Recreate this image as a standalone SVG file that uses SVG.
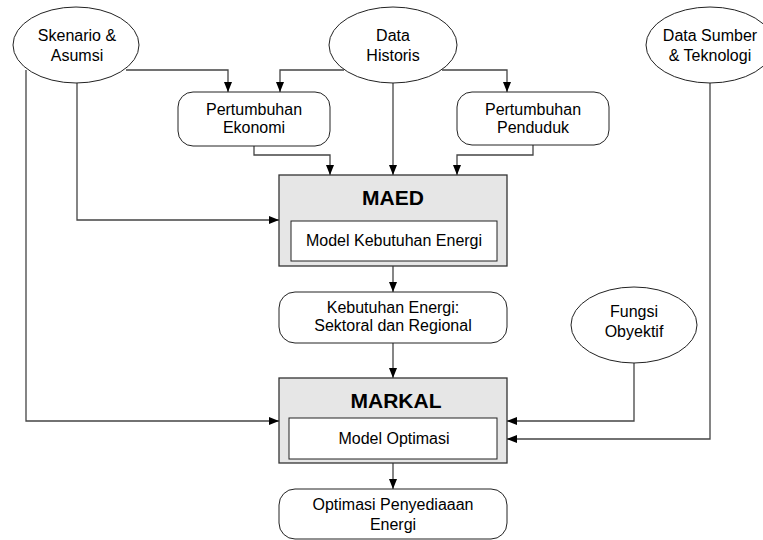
<svg xmlns="http://www.w3.org/2000/svg" width="763" height="540" viewBox="0 0 763 540">
<style>
text{font-family:"Liberation Sans",Arial,sans-serif;font-size:16px;fill:#000;text-anchor:middle}
.t{font-weight:bold;font-size:21px}
.el{fill:#fff;stroke:#222;stroke-width:1}
.rb{fill:#fff;stroke:#222;stroke-width:1}
.gb{fill:#e6e6e6;stroke:#333;stroke-width:1.3}
.ib{fill:#fff;stroke:#222;stroke-width:1}
.c{fill:none;stroke:#444;stroke-width:1.3;marker-end:url(#a)}
</style>
<defs>
<marker id="a" viewBox="0 0 10 10" refX="10" refY="5" markerWidth="10" markerHeight="10" markerUnits="userSpaceOnUse" orient="auto">
<path d="M0,1 L10,5 L0,9 Z" fill="#000"/>
</marker>
</defs>
<g id="connectors">
<path class="c" d="M126,70 H228 V92"/>
<path class="c" d="M344,70 H280 V92"/>
<path class="c" d="M442,70 H507 V92"/>
<path class="c" d="M393,83 V175"/>
<path class="c" d="M254,146 V155 H330 V175"/>
<path class="c" d="M533,145 V155 H457 V175"/>
<path class="c" d="M77,83 V220 H279"/>
<path class="c" d="M26,70 V421 H279"/>
<path class="c" d="M393,266 V292"/>
<path class="c" d="M393,343 V378"/>
<path class="c" d="M393,463 V489"/>
<path class="c" d="M634,363 V421 H507"/>
<path class="c" d="M710,83 V439 H507"/>
</g>
<g id="skenario">
<ellipse class="el" cx="76" cy="45" rx="63" ry="38"/>
<text x="77" y="41">Skenario &amp;</text>
<text x="77" y="61">Asumsi</text>
</g>
<g id="historis">
<ellipse class="el" cx="393" cy="45" rx="64" ry="38"/>
<text x="393" y="41">Data</text>
<text x="393" y="61">Historis</text>
</g>
<g id="sumber">
<ellipse class="el" cx="710" cy="45" rx="64" ry="38"/>
<text x="710" y="41">Data Sumber</text>
<text x="710" y="61">&amp; Teknologi</text>
</g>
<g id="ekonomi">
<rect class="rb" x="178" y="92" width="152" height="54" rx="15"/>
<text x="254" y="115">Pertumbuhan</text>
<text x="254" y="133">Ekonomi</text>
</g>
<g id="penduduk">
<rect class="rb" x="457" y="92" width="152" height="53" rx="15"/>
<text x="533" y="115">Pertumbuhan</text>
<text x="533" y="133">Penduduk</text>
</g>
<g id="maed">
<rect class="gb" x="279" y="175" width="228" height="91"/>
<text class="t" x="393" y="205">MAED</text>
<rect class="ib" x="291" y="221" width="206" height="40"/>
<text x="394" y="246">Model Kebutuhan Energi</text>
</g>
<g id="kebutuhan">
<rect class="rb" x="279" y="292" width="228" height="51" rx="16"/>
<text x="393" y="313">Kebutuhan Energi:</text>
<text x="393" y="331">Sektoral dan Regional</text>
</g>
<g id="fungsi">
<ellipse class="el" cx="634" cy="325" rx="63" ry="38"/>
<text x="634" y="317">Fungsi</text>
<text x="634" y="337">Obyektif</text>
</g>
<g id="markal">
<rect class="gb" x="279" y="378" width="228" height="85"/>
<text class="t" x="396" y="408">MARKAL</text>
<rect class="ib" x="289" y="418" width="208" height="41"/>
<text x="394" y="444">Model Optimasi</text>
</g>
<g id="optimasi">
<rect class="rb" x="279" y="489" width="228" height="50" rx="16"/>
<text x="393" y="510">Optimasi Penyediaaan</text>
<text x="393" y="530">Energi</text>
</g>
</svg>
